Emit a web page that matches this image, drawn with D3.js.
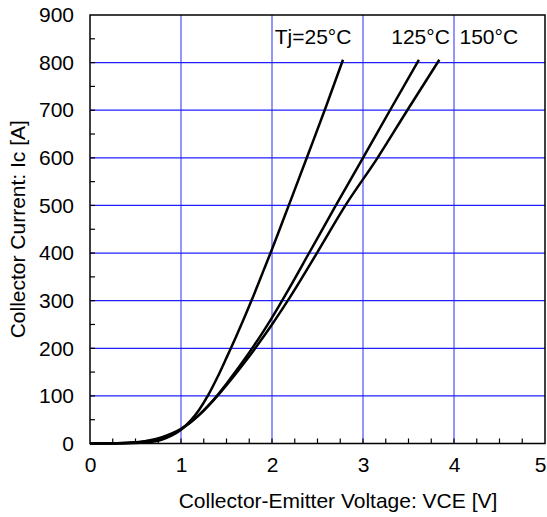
<!DOCTYPE html>
<html>
<head>
<meta charset="utf-8">
<script src="https://cdn.jsdelivr.net/npm/d3@7"></script>
<style>
  body { margin: 0; background: #fff; }
  text { font-family: "Liberation Sans", Arial, sans-serif; fill: #000; }
</style>
</head>
<body>
<div id="canvas"></div>
<script>
// Ic-VCE curves, [VCE, Ic]
var tj25 = [[0,0],[0.4,0.3],[0.6,2],[0.7,4],[0.8,9],[0.9,17],[1.0,29],[1.1,47],[1.2,71],[1.3,102],[1.4,139],
            [1.5,180],[1.6,222],[1.7,266],[1.8,312],[1.9,360],[2.0,408],[2.1,458],[2.2,508],[2.4,609],[2.6,711],[2.78,806]];
var tj125 = [[0,0],[0.3,0.3],[0.5,2],[0.6,4],[0.7,7],[0.8,12],[0.9,20],[1.0,30],[1.1,43.5],[1.2,60],[1.3,79.5],
             [1.4,101.5],[1.5,125.5],[1.6,151],[1.7,177.5],[1.8,205],[1.9,234],[2.0,264.5],[2.1,296.5],[2.2,329.5],
             [2.4,397.5],[2.7,499.5],[3.0,600],[3.3,701],[3.615,806]];
var tj150 = [[0,0],[0.3,0.5],[0.5,2.5],[0.6,5],[0.7,8.5],[0.8,14],[0.9,21],[1.0,31],[1.1,44],[1.2,60],[1.3,79],
             [1.4,100],[1.5,122.5],[1.6,146],[1.7,170.5],[1.8,196],[1.9,222.5],[2.0,250],[2.1,278.5],[2.2,308],
             [2.5,402],[2.8,498],[3.16,600],[3.487,700],[3.839,806]];
var curveLabels = [{text: 'Tj=25°C', v: 2.03, i: 839}, {text: '125°C', v: 3.31, i: 839}, {text: '150°C', v: 4.06, i: 839}];
var xTicks = [0, 1, 2, 3, 4, 5];
var yTicks = [0, 100, 200, 300, 400, 500, 600, 700, 800, 900];

var W = 547, H = 517;
var pad = {left: 90, top: 15, right: 2, bottom: 74};
var fs = '21px';

var svg = d3.select('#canvas').append('svg').attr('width', W).attr('height', H);

var x = d3.scaleLinear().domain([0, 5]).range([pad.left, W - pad.right]);
var y = d3.scaleLinear().domain([0, 900]).range([H - pad.bottom + 0.5, pad.top]);

// grid
var grid = svg.append('g');
grid.selectAll('line.gx').data(xTicks.slice(1, -1)).enter().append('line')
  .attr('x1', d => x(d)).attr('x2', d => x(d)).attr('y1', y(0)).attr('y2', y(900))
  .attr('stroke', '#5c5cff').attr('stroke-width', 1.3);
grid.selectAll('line.gy').data(yTicks.slice(1, -1)).enter().append('line')
  .attr('y1', d => y(d)).attr('y2', d => y(d)).attr('x1', x(0)).attr('x2', x(5))
  .attr('stroke', '#2020ff').attr('stroke-width', 1.3);

// minor ticks inside the frame
var xMinor = d3.range(0.25, 5, 0.25), yMinor = d3.range(50, 900, 50);
svg.append('g').selectAll('line').data(xMinor).enter().append('line')
  .attr('x1', d => x(d)).attr('x2', d => x(d)).attr('y1', y(0)).attr('y2', y(0) - 5)
  .attr('stroke', '#000').attr('stroke-width', 1.2);
svg.append('g').selectAll('line').data(yMinor).enter().append('line')
  .attr('y1', d => y(d)).attr('y2', d => y(d)).attr('x1', x(0)).attr('x2', x(0) + 5)
  .attr('stroke', '#000').attr('stroke-width', 1.2);

// frame
svg.append('rect').attr('x', x(0)).attr('y', y(900)).attr('width', x(5) - x(0)).attr('height', y(0) - y(900))
  .attr('fill', 'none').attr('stroke', '#000').attr('stroke-width', 1.5);

// axes labels
var xAxis = d3.axisBottom(x).tickValues(xTicks).tickFormat(d3.format('d')).tickSize(0).tickPadding(14);
svg.append('g').attr('transform', 'translate(0,' + y(0) + ')').call(xAxis)
  .call(g => g.select('.domain').remove())
  .selectAll('text').style('font-size', fs).style('font-family', '"Liberation Sans", Arial, sans-serif')
  .attr('dx', d => d === 5 ? -5 : 0); // last label sits at the window edge
var yAxis = d3.axisLeft(y).tickValues(yTicks).tickFormat(d3.format('d')).tickSize(0).tickPadding(16);
svg.append('g').attr('transform', 'translate(' + x(0) + ',0)').call(yAxis)
  .call(g => g.select('.domain').remove())
  .selectAll('text').style('font-size', fs).style('font-family', '"Liberation Sans", Arial, sans-serif');

svg.append('text').attr('x', 338).attr('y', 508).attr('text-anchor', 'middle')
  .style('font-size', fs).text('Collector-Emitter Voltage: VCE [V]');
svg.append('text').attr('transform', 'translate(25,' + y(450) + ') rotate(-90)').attr('text-anchor', 'middle')
  .style('font-size', fs).text('Collector Current: Ic [A]');

// curves
var line = d3.line().x(d => x(d[0])).y(d => y(d[1])).curve(d3.curveMonotoneX);
svg.append('g').selectAll('path').data([tj25, tj125, tj150]).enter().append('path')
  .attr('d', line).attr('fill', 'none').attr('stroke', '#000').attr('stroke-width', 2.5);

svg.append('g').selectAll('text').data(curveLabels).enter().append('text')
  .attr('x', d => x(d.v)).attr('y', d => y(d.i))
  .style('font-size', fs).text(d => d.text);
</script>
</body>
</html>
